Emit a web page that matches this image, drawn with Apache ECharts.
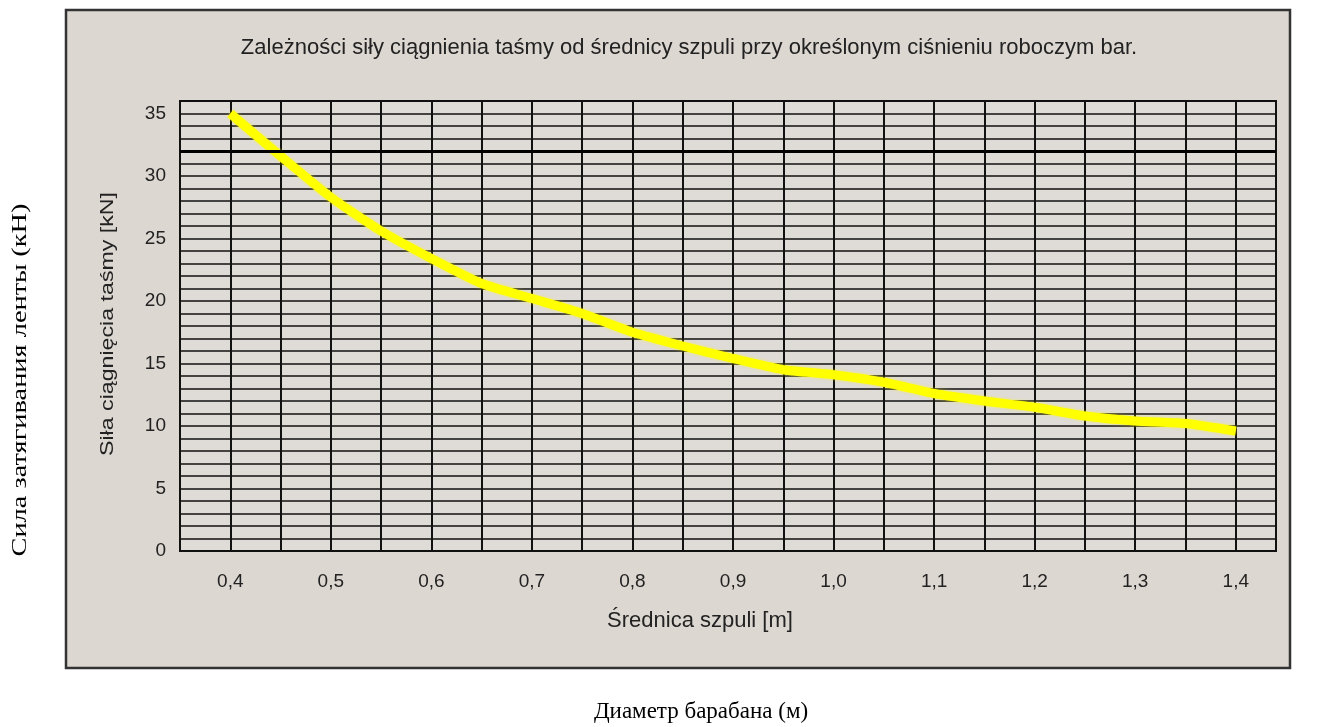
<!DOCTYPE html>
<html>
<head>
<meta charset="utf-8">
<script src="https://cdn.jsdelivr.net/npm/echarts@6/dist/echarts.min.js"></script>
<style>
html,body{margin:0;padding:0;background:#fff;}
#chart{width:1344px;height:727px;}
</style>
</head>
<body>
<div id="chart"></div>
<script>
// ---- data ----
const diameters = [0.40,0.45,0.50,0.55,0.60,0.65,0.70,0.75,0.80,0.85,0.90,0.95,1.00,1.05,1.10,1.15,1.20,1.25,1.30,1.35,1.40];
const forces    = [35.0,31.6,28.3,25.6,23.4,21.4,20.2,19.0,17.5,16.4,15.4,14.5,14.1,13.5,12.6,12.0,11.5,10.8,10.4,10.2,9.6];
const refLine = 32;
const titleText = 'Zależności siły ciągnienia taśmy od średnicy szpuli przy określonym ciśnieniu roboczym bar.';
const xNamePl = 'Średnica szpuli [m]';
const yNamePl = 'Siła ciągnięcia taśmy [kN]';
const xNameRu = 'Диаметр барабана (м)';
const yNameRu = 'Сила затягивания ленты (кН)';

const chart = echarts.init(document.getElementById('chart'));
const panelBg = '#dcd7d1';
const ink = '#222';
chart.setOption({
  backgroundColor: '#ffffff',
  animation: false,
  graphic: [
    { type: 'rect', z: -10, shape: { x: 66, y: 10, width: 1224, height: 658 },
      style: { fill: panelBg, stroke: '#333', lineWidth: 2.5 } },
    { type: 'text', z: 5, x: 689, y: 48,
      style: { text: titleText, font: '22px "Liberation Sans", Arial, sans-serif', fill: ink, align: 'center', verticalAlign: 'middle' } },
    { type: 'text', z: 5, x: 700, y: 621,
      style: { text: xNamePl, font: '22px "Liberation Sans", Arial, sans-serif', fill: ink, align: 'center', verticalAlign: 'middle' } },
    { type: 'text', z: 5, x: 108, y: 324, rotation: Math.PI / 2, scaleX: 1.22,
      style: { text: yNamePl, font: '19px "Liberation Sans", Arial, sans-serif', fill: ink, align: 'center', verticalAlign: 'middle' } },
    { type: 'text', z: 5, x: 701, y: 712,
      style: { text: xNameRu, font: '23px "Liberation Serif", "Times New Roman", serif', fill: '#000', align: 'center', verticalAlign: 'middle' } },
    { type: 'text', z: 5, x: 21, y: 380, rotation: Math.PI / 2, scaleX: 1.42,
      style: { text: yNameRu, font: '20px "Liberation Serif", "Times New Roman", serif', fill: '#000', align: 'center', verticalAlign: 'middle' } }
  ],
  grid: {
    left: 180, right: 68, top: 101, bottom: 176,
    show: true, backgroundColor: '#dfdbd6', borderColor: '#111', borderWidth: 2
  },
  xAxis: {
    type: 'value', min: 0.35, max: 1.44, interval: 0.05,
    axisLine: { show: false }, axisTick: { show: false },
    splitLine: { show: true, lineStyle: { color: '#111', width: 2 } },
    axisLabel: {
      margin: 21, fontSize: 19, color: ink, fontFamily: '"Liberation Sans", Arial, sans-serif',
      formatter: function (v) {
        const r = Math.round(v * 100);
        if (r % 10 !== 0) return '';
        return (r / 100).toFixed(1).replace('.', ',');
      }
    }
  },
  yAxis: {
    type: 'value', min: 0, max: 36, interval: 1,
    axisLine: { show: false }, axisTick: { show: false },
    splitLine: { show: true, lineStyle: { color: '#111', width: 1.6 } },
    axisLabel: {
      margin: 14, fontSize: 19, color: ink, fontFamily: '"Liberation Sans", Arial, sans-serif',
      formatter: function (v) { return (Math.round(v) % 5 === 0 && v < 36) ? String(Math.round(v)) : ''; }
    }
  },
  series: [{
    type: 'line',
    data: diameters.map((d, i) => [d, forces[i]]),
    showSymbol: false,
    smooth: 0.2,
    lineStyle: { color: '#ffff00', width: 9, shadowColor: 'rgba(255,255,0,0.6)', shadowBlur: 3 },
    z: 3,
    markLine: {
      silent: true, symbol: 'none', label: { show: false },
      lineStyle: { color: '#000', width: 3, type: 'solid' },
      data: [{ yAxis: refLine }]
    }
  }]
});
</script>
</body>
</html>
